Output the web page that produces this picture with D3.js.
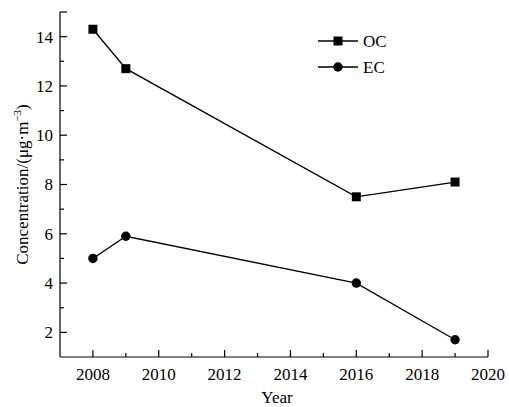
<!DOCTYPE html>
<html>
<head>
<meta charset="utf-8">
<script src="https://cdn.jsdelivr.net/npm/d3@7"></script>
<style>
  body { margin: 0; background: #fff; }
  svg text { font-family: "Liberation Serif", "Times New Roman", Times, "DejaVu Serif", serif; fill: #000; }
</style>
</head>
<body>
<svg id="chart" width="509" height="407"></svg>
<script>
// Sampling years and measured concentrations (µg·m⁻³)
const years = [2008, 2009, 2016, 2019];
const ocValues = [14.3, 12.7, 7.5, 8.1];
const ecValues = [5.0, 5.9, 4.0, 1.7];
const xTicks = [2008, 2010, 2012, 2014, 2016, 2018, 2020];
const yTicks = [2, 4, 6, 8, 10, 12, 14];
const seriesNames = ["OC", "EC"];

const FONT = '"Liberation Serif", "Times New Roman", Times, "DejaVu Serif", serif';
const svg = d3.select("#chart").attr("font-family", FONT);
const margin = { left: 60, right: 21, top: 12, bottom: 50 };
const W = 509, H = 407;

const x = d3.scaleLinear().domain([2007, 2020]).range([margin.left, W - margin.right]);
const y = d3.scaleLinear().domain([1, 15]).range([H - margin.bottom, margin.top]);

const fontSize = 17;

// Bottom axis: major ticks labelled, minor ticks at odd years, ticks point inward
const gx = svg.append("g").attr("transform", `translate(0,${y.range()[0]})`);
gx.append("line").attr("x1", x.range()[0]).attr("x2", x.range()[1])
  .attr("stroke", "#000").attr("stroke-width", 1.2);
d3.range(2008, 2021).forEach(v => {
  const major = xTicks.includes(v);
  gx.append("line").attr("x1", x(v)).attr("x2", x(v))
    .attr("y1", 0).attr("y2", major ? -7 : -4)
    .attr("stroke", "#000").attr("stroke-width", 1.2);
});
gx.selectAll("text.tick").data(xTicks).join("text")
  .attr("x", d => x(d)).attr("y", 23)
  .attr("text-anchor", "middle").attr("font-size", fontSize)
  .attr("font-family", FONT)
  .text(d => d);

// Left axis: ticks point inward, minor ticks at odd values
const gy = svg.append("g").attr("transform", `translate(${x.range()[0]},0)`);
gy.append("line").attr("y1", y.range()[0]).attr("y2", y.range()[1])
  .attr("stroke", "#000").attr("stroke-width", 1.2);
d3.range(2, 16).forEach(v => {
  const major = yTicks.includes(v) || v === 15;
  gy.append("line").attr("y1", y(v)).attr("y2", y(v))
    .attr("x1", 0).attr("x2", major ? 7 : 4)
    .attr("stroke", "#000").attr("stroke-width", 1.2);
});
gy.selectAll("text.tick").data(yTicks).join("text")
  .attr("x", -7).attr("y", d => y(d)).attr("dy", "0.35em")
  .attr("text-anchor", "end").attr("font-size", fontSize)
  .attr("font-family", FONT)
  .text(d => d);

// Axis titles
svg.append("text").attr("x", (x.range()[0] + x.range()[1]) / 2 + 3).attr("y", 403)
  .attr("text-anchor", "middle").attr("font-size", fontSize).attr("font-family", FONT).text("Year");

const yTitle = svg.append("text")
  .attr("transform", `translate(28,${(y.range()[0] + y.range()[1]) / 2}) rotate(-90)`)
  .attr("text-anchor", "middle").attr("font-size", fontSize).attr("font-family", FONT);
yTitle.append("tspan").text("Concentration/(μg·m");
yTitle.append("tspan").attr("font-size", 11).attr("dy", -7).text("−3");
yTitle.append("tspan").attr("dy", 7).text(")");

// Series lines and markers
const line = d3.line().x(d => x(d[0])).y(d => y(d[1]));
const oc = years.map((yr, i) => [yr, ocValues[i]]);
const ec = years.map((yr, i) => [yr, ecValues[i]]);

svg.append("path").attr("d", line(oc)).attr("fill", "none").attr("stroke", "#000").attr("stroke-width", 1.3);
svg.append("path").attr("d", line(ec)).attr("fill", "none").attr("stroke", "#000").attr("stroke-width", 1.3);

const sq = 9;
svg.selectAll("rect.oc").data(oc).join("rect")
  .attr("x", d => x(d[0]) - sq / 2).attr("y", d => y(d[1]) - sq / 2)
  .attr("width", sq).attr("height", sq).attr("fill", "#000");
svg.selectAll("circle.ec").data(ec).join("circle")
  .attr("cx", d => x(d[0])).attr("cy", d => y(d[1])).attr("r", 4.7).attr("fill", "#000");

// Legend
const legend = svg.append("g").attr("transform", "translate(318,41)");
seriesNames.forEach((name, i) => {
  const g = legend.append("g").attr("transform", `translate(0,${i * 26})`);
  g.append("line").attr("x1", 0).attr("x2", 40).attr("stroke", "#000").attr("stroke-width", 1.3);
  if (i === 0) {
    g.append("rect").attr("x", 20 - sq / 2).attr("y", -sq / 2).attr("width", sq).attr("height", sq).attr("fill", "#000");
  } else {
    g.append("circle").attr("cx", 20).attr("cy", 0).attr("r", 4.7).attr("fill", "#000");
  }
  g.append("text").attr("x", 45).attr("y", 0).attr("dy", "0.35em").attr("font-size", fontSize)
    .attr("font-family", FONT).text(name);
});
</script>
</body>
</html>
